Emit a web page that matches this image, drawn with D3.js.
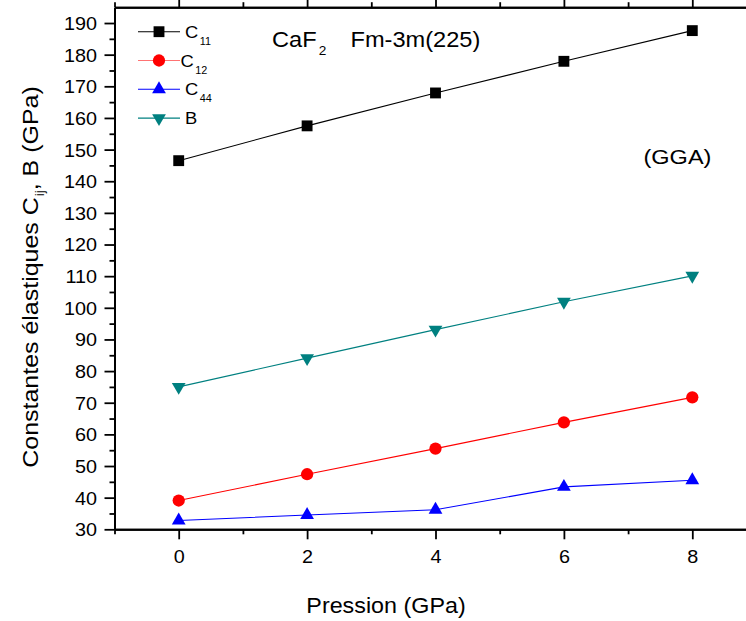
<!DOCTYPE html>
<html>
<head>
<meta charset="utf-8">
<script src="https://cdn.jsdelivr.net/npm/d3@7"></script>
<style>
  body { margin: 0; background: #fff; overflow: hidden; }
  svg { display: block; }
  text { font-family: "Liberation Sans", Arial, Helvetica, sans-serif; fill: #000; }
</style>
</head>
<body>
<svg id="chart" width="746" height="621"></svg>
<script>
// Pressure points (GPa)
const pressures = [0, 2, 4, 6, 8];
// Elastic constants and bulk modulus (GPa)
const c11 = [146.5, 157.5, 167.9, 177.9, 187.6];
const c12 = [39.1, 47.4, 55.5, 63.8, 71.7];
const c44 = [32.8, 34.5, 36.2, 43.4, 45.5];
const bulk = [75.0, 84.1, 93.1, 101.9, 110.1];

// Axis ticks
const xMajorTicks = [0, 2, 4, 6, 8];
const xMinorTicks = [-1, 1, 3, 5, 7, 9];
const yMajorTicks = [30, 40, 50, 60, 70, 80, 90, 100, 110, 120, 130, 140, 150, 160, 170, 180, 190];
const yMinorTicks = [35, 45, 55, 65, 75, 85, 95, 105, 115, 125, 135, 145, 155, 165, 175, 185];

const series = [
  { sub: "11", values: c11, color: "#000000", symbol: d3.symbolSquare, size: 118, rot: 0 },
  { sub: "12", values: c12, color: "#ff0000", symbol: d3.symbolCircle, size: 118, rot: 0 },
  { sub: "44", values: c44, color: "#0000ff", symbol: d3.symbolTriangle, size: 82, rot: 0 },
  { sub: null, label: "B", values: bulk, color: "#008080", symbol: d3.symbolTriangle, size: 82, rot: 180 }
];

const svg = d3.select("#chart");
const FONT = '"Liberation Sans", Arial, Helvetica, sans-serif';

const x = d3.scaleLinear().domain([-1, 9]).range([114.5, 756.5]);
const y = d3.scaleLinear().domain([30, 195]).range([529.3, 7.2]);

// ---- axes ----
function styleAxis(g) {
  g.select(".domain").attr("stroke", "#000").attr("stroke-width", 2);
  g.selectAll(".tick line").attr("stroke", "#000").attr("stroke-width", 1.8);
}

// bottom axis: major with labels, minor without
const gxMinor = svg.append("g").attr("transform", `translate(0,${y(30)})`)
  .call(d3.axisBottom(x).tickValues(xMinorTicks).tickSize(5).tickSizeOuter(0).tickFormat(""));
styleAxis(gxMinor);
const gx = svg.append("g").attr("transform", `translate(0,${y(30)})`)
  .call(d3.axisBottom(x).tickValues(xMajorTicks).tickSize(10).tickSizeOuter(0).tickFormat(d3.format("d")));
styleAxis(gx);

// top axis: ticks only
const gTopMinor = svg.append("g").attr("transform", `translate(0,${y(195)})`)
  .call(d3.axisTop(x).tickValues(xMinorTicks).tickSize(5).tickSizeOuter(0).tickFormat(""));
styleAxis(gTopMinor);
const gTop = svg.append("g").attr("transform", `translate(0,${y(195)})`)
  .call(d3.axisTop(x).tickValues(xMajorTicks).tickSize(10).tickSizeOuter(0).tickFormat(""));
styleAxis(gTop);

// left axis
const gyMinor = svg.append("g").attr("transform", `translate(${x(-1)},0)`)
  .call(d3.axisLeft(y).tickValues(yMinorTicks).tickSize(5).tickSizeOuter(0).tickFormat(""));
styleAxis(gyMinor);
const gy = svg.append("g").attr("transform", `translate(${x(-1)},0)`)
  .call(d3.axisLeft(y).tickValues(yMajorTicks).tickSize(10).tickSizeOuter(0).tickFormat(d3.format("d")));
styleAxis(gy);

// tick label text, slightly widened
gx.selectAll(".tick text")
  .attr("font-size", 18).attr("font-family", FONT).attr("fill", "#000")
  .attr("y", null).attr("dy", null)
  .attr("transform", "translate(0,33.5) scale(1.1,1)");
gy.selectAll(".tick text")
  .attr("font-size", 18).attr("font-family", FONT).attr("fill", "#000")
  .attr("x", null).attr("dy", "0.36em")
  .attr("transform", "translate(-17.5,0) scale(1.1,1)");

// ---- series lines and markers ----
const line = d3.line().x((d, i) => x(pressures[i])).y(d => y(d));

series.forEach(s => {
  svg.append("path")
    .datum(s.values)
    .attr("fill", "none")
    .attr("stroke", s.color)
    .attr("stroke-width", 1.1)
    .attr("d", line);
});

series.forEach(s => {
  const sym = d3.symbol().type(s.symbol).size(s.size);
  svg.append("g").selectAll("path")
    .data(s.values)
    .join("path")
    .attr("d", sym)
    .attr("fill", s.color)
    .attr("transform", (d, i) => `translate(${x(pressures[i])},${y(d)}) rotate(${s.rot})`);
});

// ---- legend ----
const legend = svg.append("g");
series.forEach((s, i) => {
  const cy = 31.7 + i * 28.8;
  legend.append("line")
    .attr("x1", 138).attr("x2", 180).attr("y1", cy).attr("y2", cy)
    .attr("stroke", s.color).attr("stroke-width", 1.1)
    .attr("stroke-opacity", s.color === "#ff0000" ? 0.55 : 1);
  legend.append("path")
    .attr("d", d3.symbol().type(s.symbol).size(s.size)())
    .attr("fill", s.color)
    .attr("transform", `translate(159,${cy}) rotate(${s.rot})`);
  const lx = s.sub === "12" ? 180.5 : 185;
  const t = legend.append("text")
    .attr("font-size", 17)
    .attr("transform", `translate(${lx},${cy + 6}) scale(1.08,1)`);
  if (s.sub) {
    t.append("tspan").text("C");
    t.append("tspan").attr("font-size", 10).attr("dx", 1.5).attr("dy", 7).text(s.sub);
  } else {
    t.text(s.label);
  }
});

// ---- annotations ----
const title = svg.append("text")
  .attr("font-size", 22.5)
  .attr("transform", "translate(272,46.5) scale(1.05,1)");
title.append("tspan").text("CaF");
title.append("tspan").attr("font-size", 13).attr("dx", 2).attr("dy", 8).text("2");

svg.append("text")
  .attr("font-size", 22.5)
  .attr("transform", "translate(350.5,46.5) scale(1.05,1)")
  .text("Fm-3m(225)");

svg.append("text")
  .attr("font-size", 21)
  .attr("transform", "translate(643.5,164) scale(1.12,1)")
  .text("(GGA)");

// ---- axis titles ----
svg.append("text")
  .attr("font-size", 22)
  .attr("text-anchor", "middle")
  .attr("transform", "translate(386,612.5) scale(1.06,1)")
  .text("Pression (GPa)");

const yTitle = svg.append("text")
  .attr("font-size", 22.5)
  .attr("text-anchor", "middle")
  .attr("transform", "translate(37.5,277) rotate(-90) scale(1.11,1)");
yTitle.append("tspan").text("Constantes élastiques C");
yTitle.append("tspan").attr("font-size", 12).attr("dx", 1).attr("dy", 6).text("ij");
yTitle.append("tspan").attr("dy", -6).text(", B (GPa)");
</script>
</body>
</html>
